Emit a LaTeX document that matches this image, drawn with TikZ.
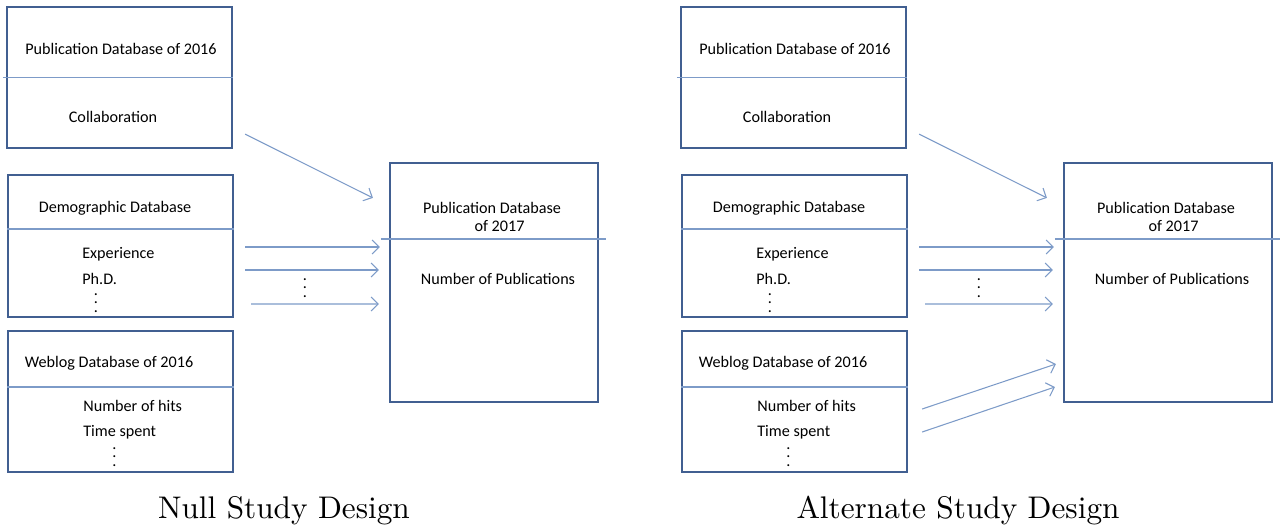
\documentclass[tikz,border=0pt]{standalone}
\usepackage{fontspec}
\usepackage{graphicx}
\usepackage{xcolor}
\usepackage{tikz}
\usetikzlibrary{positioning, calc, arrows.meta}
\newfontfamily\boxfont{Carlito}
\definecolor{boxblue}{RGB}{65, 95, 145}
\definecolor{lineblue}{RGB}{125, 155, 200}
\newcommand{\featdots}{\vbox{\baselineskip=4.8pt\lineskiplimit=0pt\hbox{.}\hbox{.}\hbox{.}}}

\begin{document}
\begin{tikzpicture}[x=0.02cm, y=-0.02cm,
        dbbox/.style={draw=boxblue, line width=1.3pt, inner sep=0pt, minimum width=4.5cm, minimum height=2.82cm},
        divline/.style={draw=lineblue, line width=0.6pt},
        feat/.style={font=\boxfont\fontsize{9.2}{11}\selectfont, inner sep=0pt, anchor=base},
        link/.style={draw=lineblue, line width=0.6pt, -{Straight Barb[length=4pt, width=8pt]}},
        design/.style={font=\fontsize{10}{12}\selectfont, inner sep=0pt, anchor=base}]
    \useasboundingbox (0,0) rectangle (1283,529);
    \foreach \pn/\dx/\design in {n/0/Null Study Design, a/674/Alternate Study Design}{
        % source databases
        \node[dbbox] (pub\pn) at ({\dx+119.5},77.5) {};
        \node[dbbox, minimum height=2.84cm] (demo\pn) at ({\dx+120.5},246) {};
        \node[dbbox] (web\pn) at ({\dx+120.5},401.5) {};
        % target database
        \node[dbbox, minimum width=4.16cm, minimum height=4.78cm] (tgt\pn) at ({\dx+494},282.5) {};
        \draw[divline] ($(pub\pn.west)+(-3,0)$) -- (pub\pn.east);
        \draw[divline] (demo\pn.west |- 0,229) -- (demo\pn.east |- 0,229);
        \draw[divline] (web\pn.west |- 0,387) -- (web\pn.east |- 0,387);
        \draw[divline] ($(tgt\pn.west |- 0,239)+(-8,0)$) -- ($(tgt\pn.east |- 0,239)+(7,0)$);
        % texts
        \node[feat] (pubtitle\pn) at ({\dx+121},54) {Publication Database of 2016};
        \node[feat] (collab\pn) at ({\dx+113},122) {Collaboration};
        \node[feat] (demotitle\pn) at ({\dx+115},212) {Demographic Database};
        \node[feat, anchor=base west] (exp\pn) at ({\dx+82},258) {Experience};
        \node[feat, anchor=base west] (phd\pn) at ({\dx+82},284) {Ph.D.};
        \node[feat] (demodots\pn) at ({\dx+96},312) {\featdots};
        \node[feat] (webtitle\pn) at ({\dx+109},367) {Weblog Database of 2016};
        \node[feat, anchor=base west] (hits\pn) at ({\dx+83},411) {Number of hits};
        \node[feat, anchor=base west] (time\pn) at ({\dx+83},436) {Time spent};
        \node[feat] (webdots\pn) at ({\dx+114.5},466) {\featdots};
        \node[feat] (tgttitle\pn) at ({\dx+492},213) {Publication Database};
        \node[feat] (tgtyear\pn) at ({\dx+499.5},231) {of 2017};
        \node[feat] (npub\pn) at ({\dx+498},284) {Number of Publications};
        % links
        \draw[link] ($(pub\pn.south east)+(12,-15)$) -- ($(tgt\pn.north west)+(-16,36)$);
        \draw[link] ($(demo\pn.east)+(11,1)$) -- ($(tgt\pn.west)+(-9,-35.5)$);
        \draw[link] ($(demo\pn.east)+(11,24)$) -- ($(tgt\pn.west)+(-10,-12.5)$);
        \draw[link] ($(demo\pn.east)+(17,58)$) -- ($(tgt\pn.west)+(-10,21.5)$);
        \node[feat] (linkdots\pn) at ({\dx+305},297) {\featdots};
        \node[design] (cap\pn) at ({\dx+284},518) {\scalebox{1.78}{\design}};
    }
    % weblog links of the alternate design
    \draw[link] ($(weba.east)+(14,7.5)$) -- ($(tgta.west)+(-7,81.5)$);
    \draw[link] ($(weba.east)+(14,30.5)$) -- ($(tgta.west)+(-8,104.5)$);
\end{tikzpicture}
\end{document}
